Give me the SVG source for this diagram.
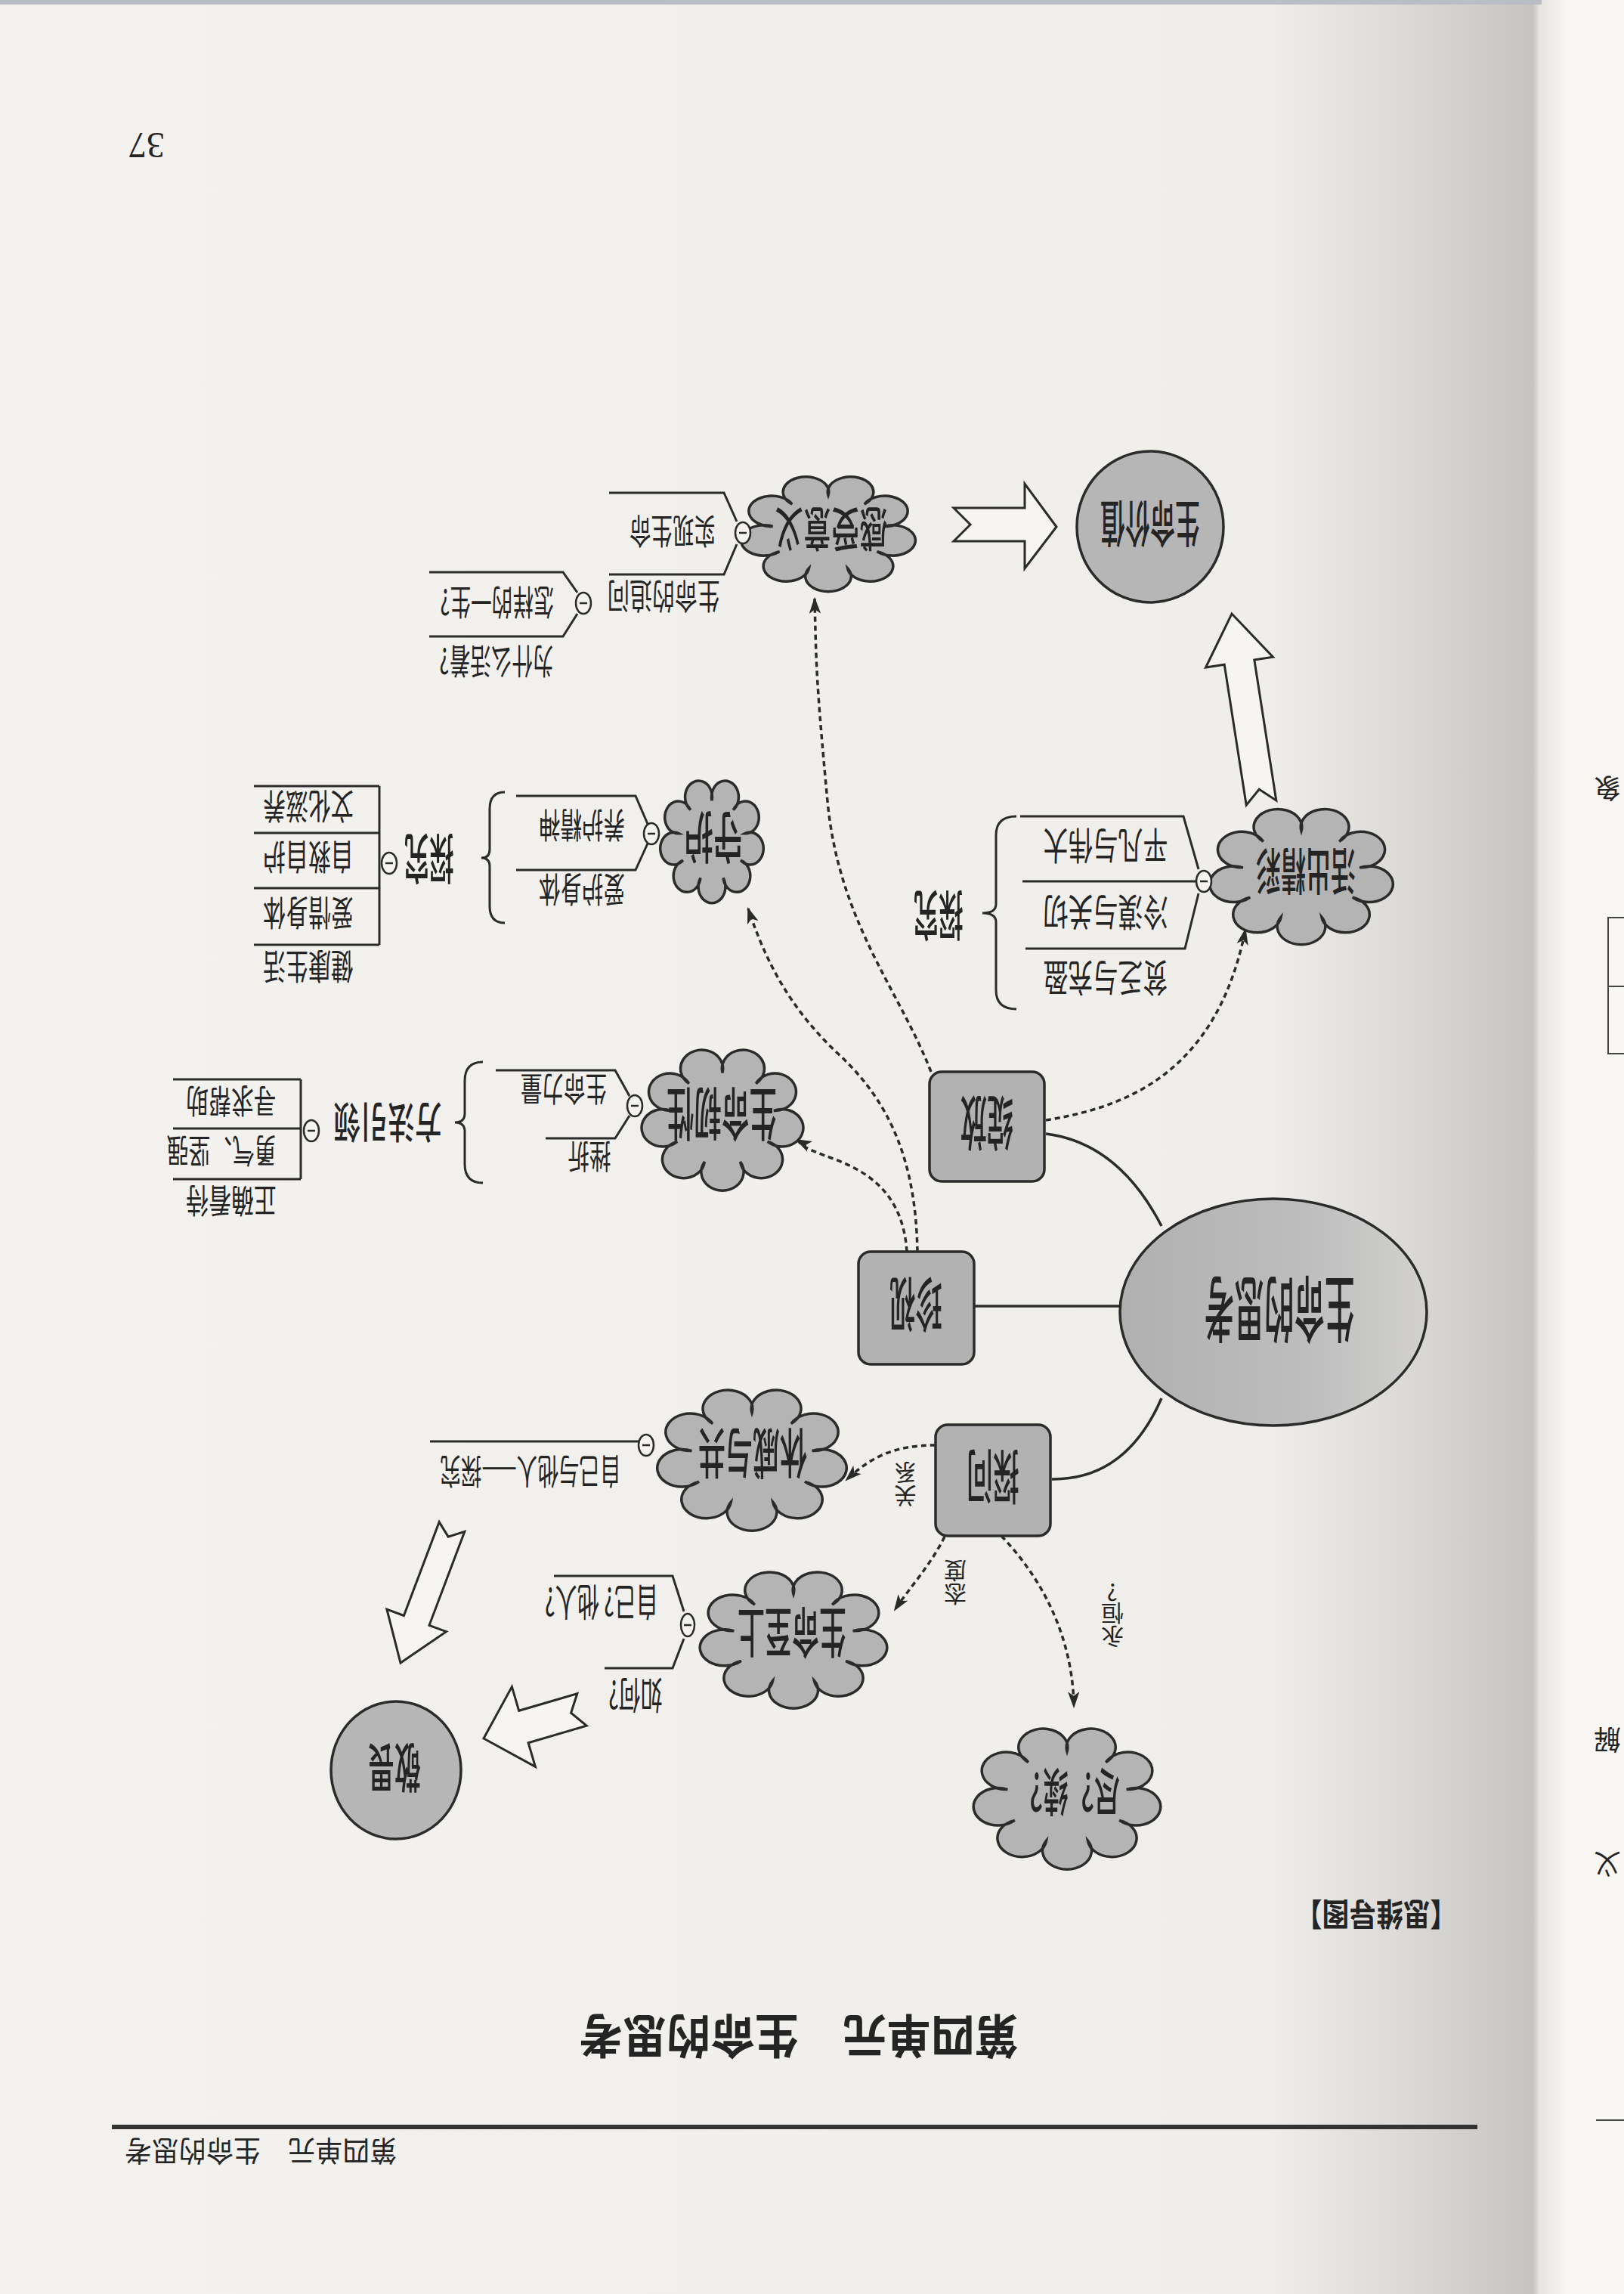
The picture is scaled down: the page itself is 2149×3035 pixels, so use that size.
<svg xmlns="http://www.w3.org/2000/svg" xmlns:xlink="http://www.w3.org/1999/xlink" width="2149" height="3035" viewBox="0 0 2149 3035">
<defs>
<linearGradient id="page" x1="0" y1="0" x2="1" y2="0">
<stop offset="0" stop-color="#f3f2ee"/>
<stop offset="0.78" stop-color="#efeeea"/>
<stop offset="0.86" stop-color="#dddbd8"/>
<stop offset="0.944" stop-color="#c6c4c1"/>
<stop offset="0.948" stop-color="#e6e5e1"/>
<stop offset="0.965" stop-color="#f7f6f2"/>
<stop offset="1" stop-color="#f8f7f4"/>
</linearGradient>
<linearGradient id="ellg" x1="0" y1="0" x2="1" y2="0">
<stop offset="0" stop-color="#b0b0b0"/>
<stop offset="0.6" stop-color="#bdbdbd"/>
<stop offset="1" stop-color="#d2d1cf"/>
</linearGradient>
<path id="cloud" d="M0,-32 A13,13 0 1 1 20.57,-24.51 A13,13 0 1 1 31.51,-5.56 A13,13 0 1 1 27.71,16 A13,13 0 1 1 10.94,30.07 A13,13 0 1 1 -10.94,30.07 A13,13 0 1 1 -27.71,16 A13,13 0 1 1 -31.51,-5.56 A13,13 0 1 1 -20.57,-24.51 A13,13 0 1 1 0,-32 Z" fill="#b4b4b4" stroke="#2b2b2b" stroke-width="3.5" vector-effect="non-scaling-stroke"/>
<marker id="ah" viewBox="0 0 20 14" refX="18" refY="7" markerWidth="22" markerHeight="16" markerUnits="userSpaceOnUse" orient="auto"><path d="M0,0 L20,7 L0,14 L5,7 Z" fill="#2a2a2a"/></marker>
</defs>
<style>
.tx{font-family:"Noto Sans CJK SC","Noto Sans CJK JP",sans-serif;fill:#242424;text-anchor:middle;dominant-baseline:central}
.lb{font-weight:500}
.bx{fill:#b2b2b2;stroke:#2b2b2b;stroke-width:3.5}
.el{fill:#b6b6b6;stroke:#2b2b2b;stroke-width:3.5}
.ln{fill:none;stroke:#2b2b2b;stroke-width:3.5}
.tg{fill:none;stroke:#2b2b2b;stroke-width:3}
.dt{fill:none;stroke:#2b2b2b;stroke-width:3.5;stroke-dasharray:7 5;marker-end:url(#ah)}
.mi{fill:#f4f3ef;stroke:#2b2b2b;stroke-width:2.5}
.ha{fill:#f6f5f1;stroke:#2b2b2b;stroke-width:3;stroke-linejoin:miter}
</style>

<rect width="2149" height="3035" fill="url(#page)"/>
<rect width="2040" height="6" fill="#b9bdc4"/>

<!-- page chrome -->
<g id="page-number"><text class="tx" style="font-family:'Liberation Serif',serif" font-size="48" transform="translate(194 192) rotate(180)">37</text></g>
<g id="header-label"><text class="tx" font-size="42" font-weight="700" transform="translate(1821 2535) rotate(180) scale(0.85 1)">【思维导图】</text></g>
<g id="title"><text class="tx" font-size="62" font-weight="700" transform="translate(1057 2697) rotate(180) scale(0.94 1)">第四单元　生命的思考</text></g>
<g id="footer">
<path d="M148,2814 H1955" stroke="#333" stroke-width="6"/>
<text class="tx" font-size="38" transform="translate(345 2848) rotate(180) scale(0.95 1)">第四单元　生命的思考</text>
</g>
<g id="next-page" fill="none" stroke="#444" stroke-width="2">
<path d="M2149,1214 H2128 V1394 H2149 M2128,1305 H2149"/>
<path d="M2112,2805 H2149"/>
<text class="tx" stroke="none" font-size="36" transform="translate(2127 1045) rotate(180)">象</text>
<text class="tx" stroke="none" font-size="36" transform="translate(2127 2304) rotate(180)">解</text>
<text class="tx" stroke="none" font-size="36" transform="translate(2127 2468) rotate(180)">义</text>
</g>

<!-- connectors -->
<g id="connectors">
<path class="ln" d="M1482,1728 H1290"/>
<path class="ln" d="M1537,1622 Q1480,1512 1384,1500"/>
<path class="ln" d="M1537,1850 Q1490,1958 1392,1957"/>
<path class="dt" d="M1232,1418 C1190,1310 1110,1220 1095,1060 S1080,880 1078,792"/>
<path class="dt" d="M1384,1482 C1490,1465 1610,1420 1648,1230"/>
<path class="dt" d="M1214,1656 C1212,1540 1180,1460 1110,1395 S1010,1262 990,1202"/>
<path class="dt" d="M1200,1656 C1195,1580 1150,1550 1100,1532 S1062,1512 1054,1508"/>
<path class="dt" d="M1238,1912 C1180,1912 1150,1930 1120,1958"/>
<path class="dt" d="M1250,2033 C1232,2070 1204,2100 1184,2130"/>
<path class="dt" d="M1325,2032 C1390,2100 1420,2180 1421,2258"/>
<polygon class="ha" points="1262,672 1356,672 1356,640 1398,697 1356,752 1356,716 1262,716 1284,694"/>
<polygon class="ha" points="1649.2,1065.1 1620.2,879.3 1595.5,883.1 1630,812 1684.5,869.3 1659.8,873.1 1688.8,1058.9 1666.2,1044.2"/>
<polygon class="ha" points="763.8,2240.8 686.7,2263.3 677.4,2231.6 640,2300 708.4,2337.4 699.1,2305.7 776.2,2283.2 755.6,2266.2"/>
<polygon class="ha" points="581.2,2013.6 534.4,2137.5 511.9,2129.1 530,2200 590.5,2158.7 568,2150.3 614.8,2026.4 593.1,2033.1"/>
<text class="tx" font-size="30" transform="translate(1198 1950) rotate(180)">系</text>
<text class="tx" font-size="30" transform="translate(1198 1981) rotate(180)">关</text>
<text class="tx" font-size="30" transform="translate(1264 2080) rotate(180)">度</text>
<text class="tx" font-size="30" transform="translate(1264 2111) rotate(180)">态</text>
<text class="tx" font-size="30" transform="translate(1472 2108) rotate(180)">?</text>
<text class="tx" font-size="30" transform="translate(1472 2136) rotate(180)">恒</text>
<text class="tx" font-size="30" transform="translate(1472 2167) rotate(180)">永</text>
</g>

<!-- central node -->
<g id="node-center">
<ellipse cx="1685" cy="1736" rx="203" ry="150" fill="url(#ellg)" stroke="#2b2b2b" stroke-width="3.5"/>
<text class="tx lb" font-size="95" transform="translate(1693 1738) rotate(180) scale(0.42 1)">生命的思考</text>
</g>

<g id="node-zhanfang">
<rect class="bx" x="1230" y="1418" width="152" height="145" rx="16"/>
<text class="tx lb" font-size="78" transform="translate(1306 1490) rotate(180) scale(0.45 1)">绽放</text>
</g>
<g id="node-zhenshi">
<rect class="bx" x="1136" y="1656" width="153" height="149" rx="16"/>
<text class="tx lb" font-size="78" transform="translate(1212 1730) rotate(180) scale(0.45 1)">珍视</text>
</g>
<g id="node-tanwen">
<rect class="bx" x="1238" y="1885" width="152" height="147" rx="16"/>
<text class="tx lb" font-size="78" transform="translate(1314 1958) rotate(180) scale(0.45 1)">探问</text>
</g>

<g id="node-value">
<ellipse class="el" cx="1522" cy="697" rx="97" ry="100"/>
<text class="tx lb" font-size="66" transform="translate(1522 697) rotate(180) scale(0.5 1)">生命价值</text>
</g>

<g id="node-ganshou">
<use href="#cloud" xlink:href="#cloud" transform="translate(1096 705) scale(2.33 1.55)"/>
<text class="tx lb" font-size="62" transform="translate(1100 703) rotate(180) scale(0.6 1)">感受意义</text>
<path class="tg" d="M806,652 H958 L975,690 M806,760 H958 L975,720"/>
<ellipse class="mi" cx="983" cy="705" rx="10" ry="14"/><path d="M978,705 H988" stroke="#2b2b2b" stroke-width="2.5"/>
<text class="tx" font-size="46" transform="translate(890 706) rotate(180) scale(0.62 1)">实现生命</text>
<text class="tx" font-size="46" transform="translate(878 792) rotate(180) scale(0.65 1)">生命的追问</text>
<path class="tg" d="M568,757 H745 L764,784 M568,842 H745 L764,812"/>
<ellipse class="mi" cx="772" cy="798" rx="10" ry="14"/><path d="M767,798 H777" stroke="#2b2b2b" stroke-width="2.5"/>
<text class="tx" font-size="46" transform="translate(658 800) rotate(180) scale(0.6 1)">怎样的一生?</text>
<text class="tx" font-size="46" transform="translate(657 878) rotate(180) scale(0.6 1)">为什么活着?</text>
</g>

<g id="node-huochu">
<use href="#cloud" xlink:href="#cloud" transform="translate(1722 1158) scale(2.45 1.83)"/>
<text class="tx lb" font-size="66" transform="translate(1728 1157) rotate(180) scale(0.5 1)">活出精彩</text>
<path class="tg" d="M1350,1080 H1566 L1586,1150 M1353,1166 H1583 M1357,1255 H1568 L1586,1182"/>
<ellipse class="mi" cx="1593" cy="1166" rx="10" ry="14"/><path d="M1588,1166 H1598" stroke="#2b2b2b" stroke-width="2.5"/>
<text class="tx" font-size="50" transform="translate(1463 1122) rotate(180) scale(0.66 1)">平凡与伟大</text>
<text class="tx" font-size="50" transform="translate(1463 1210) rotate(180) scale(0.66 1)">冷漠与关切</text>
<text class="tx" font-size="50" transform="translate(1463 1297) rotate(180) scale(0.66 1)">贫乏与充盈</text>
<path class="tg" d="M1345,1080 Q1318,1080 1318,1105 L1318,1196 Q1318,1208 1300,1208 Q1318,1208 1318,1220 L1318,1310 Q1318,1335 1345,1335"/>
<text class="tx lb" font-size="72" transform="translate(1242 1215) rotate(180) scale(0.46 1)">探究</text>
</g>

<g id="node-shouhu">
<use href="#cloud" xlink:href="#cloud" transform="translate(942 1112) scale(1.38 1.65)"/>
<text class="tx lb" font-size="74" transform="translate(944 1112) rotate(180) scale(0.52 1)">守护</text>
<path class="tg" d="M683,1053 H841 L857,1090 M683,1151 H841 L857,1116"/>
<ellipse class="mi" cx="862" cy="1103" rx="10" ry="14"/><path d="M857,1103 H867" stroke="#2b2b2b" stroke-width="2.5"/>
<text class="tx" font-size="46" transform="translate(770 1095) rotate(180) scale(0.62 1)">养护精神</text>
<text class="tx" font-size="46" transform="translate(770 1180) rotate(180) scale(0.62 1)">爱护身体</text>
<path class="tg" d="M668,1048 Q648,1048 648,1070 L648,1124 Q648,1135 637,1135 Q648,1135 648,1146 L648,1199 Q648,1221 668,1221"/>
<text class="tx lb" font-size="72" transform="translate(568 1140) rotate(180) scale(0.46 1)">探究</text>
<path class="tg" d="M502,1040 V1250 M336,1040 H502 M336,1102 H502 M336,1175 H502 M336,1250 H502"/>
<ellipse class="mi" cx="515" cy="1142" rx="10" ry="14"/><path d="M510,1142 H520" stroke="#2b2b2b" stroke-width="2.5"/>
<text class="tx" font-size="46" transform="translate(408 1070) rotate(180) scale(0.65 1)">文化滋养</text>
<text class="tx" font-size="46" transform="translate(408 1137) rotate(180) scale(0.65 1)">自救自护</text>
<text class="tx" font-size="46" transform="translate(408 1211) rotate(180) scale(0.65 1)">爱惜身体</text>
<text class="tx" font-size="46" transform="translate(408 1282) rotate(180) scale(0.65 1)">健康生活</text>
</g>

<g id="node-renxing">
<use href="#cloud" xlink:href="#cloud" transform="translate(956 1480) scale(2.16 1.9)"/>
<text class="tx lb" font-size="76" transform="translate(955 1478) rotate(180) scale(0.48 1)">生命韧性</text>
<path class="tg" d="M656,1416 H814 L833,1450 M722,1506 H814 L833,1476"/>
<ellipse class="mi" cx="840" cy="1463" rx="10" ry="14"/><path d="M835,1463 H845" stroke="#2b2b2b" stroke-width="2.5"/>
<text class="tx" font-size="44" transform="translate(746 1443) rotate(180) scale(0.65 1)">生命力量</text>
<text class="tx" font-size="44" transform="translate(780 1532) rotate(180) scale(0.65 1)">挫折</text>
<path class="tg" d="M639,1405 Q615,1405 615,1430 L615,1473 Q615,1485 602,1485 Q615,1485 615,1497 L615,1540 Q615,1565 639,1565"/>
<text class="tx lb" font-size="56" transform="translate(513 1488) rotate(180) scale(0.64 1)">方法引领</text>
<path class="tg" d="M398,1428 V1560 M229,1428 H398 M229,1493 H398 M229,1560 H398"/>
<ellipse class="mi" cx="412" cy="1496" rx="10" ry="14"/><path d="M407,1496 H417" stroke="#2b2b2b" stroke-width="2.5"/>
<text class="tx" font-size="44" transform="translate(306 1459) rotate(180) scale(0.68 1)">寻求帮助</text>
<text class="tx" font-size="44" transform="translate(293 1525) rotate(180) scale(0.66 1)">勇气、坚强</text>
<text class="tx" font-size="44" transform="translate(306 1591) rotate(180) scale(0.68 1)">正确看待</text>
</g>

<g id="node-xiuqi">
<use href="#cloud" xlink:href="#cloud" transform="translate(995 1930) scale(2.53 1.9)"/>
<text class="tx lb" font-size="72" transform="translate(996 1928) rotate(180) scale(0.5 1)">休戚与共</text>
<path class="tg" d="M569,1907 H845"/>
<ellipse class="mi" cx="855" cy="1912" rx="10" ry="14"/><path d="M850,1912 H860" stroke="#2b2b2b" stroke-width="2.5"/>
<text class="tx" font-size="46" transform="translate(702 1950) rotate(180) scale(0.6 1)">自己与他人——探究</text>
</g>

<g id="node-zhishang">
<use href="#cloud" xlink:href="#cloud" transform="translate(1050 2168) scale(2.5 1.84)"/>
<text class="tx lb" font-size="72" transform="translate(1048 2165) rotate(180) scale(0.5 1)">生命至上</text>
<path class="tg" d="M733,2085 H890 L905,2132 M800,2207 H890 L905,2168"/>
<ellipse class="mi" cx="910" cy="2150" rx="9" ry="15"/><path d="M905,2150 H915" stroke="#2b2b2b" stroke-width="2.5"/>
<text class="tx" font-size="50" transform="translate(796 2122) rotate(180) scale(0.58 1)">自己? 他人?</text>
<text class="tx" font-size="50" transform="translate(841 2245) rotate(180) scale(0.58 1)">如何?</text>
</g>

<g id="node-jinxu">
<use href="#cloud" xlink:href="#cloud" transform="translate(1412 2378) scale(2.5 1.9)"/>
<text class="tx lb" font-size="68" transform="translate(1414 2375) rotate(180) scale(0.5 1)">尽？续？</text>
</g>

<g id="node-jingwei">
<ellipse class="el" cx="524" cy="2342" rx="86" ry="91"/>
<text class="tx lb" font-size="70" transform="translate(522 2342) rotate(180) scale(0.5 1)">敬畏</text>
</g>
</svg>
